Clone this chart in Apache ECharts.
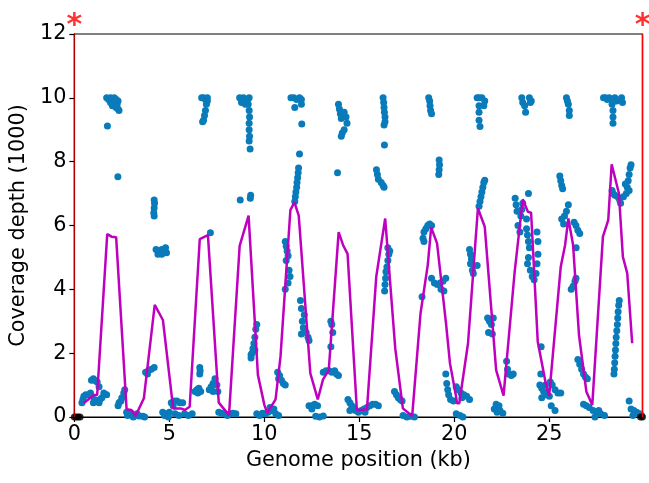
<!DOCTYPE html>
<html><head><meta charset="utf-8">
<script src="https://cdn.jsdelivr.net/npm/echarts@6/dist/echarts.min.js"></script>
<style>html,body{margin:0;padding:0;background:#fff}#c{width:649px;height:483px}</style>
</head><body><div id="c"></div>
<script>
const genomeLengthKb = 29.903;
const xTicks = [0, 5, 10, 15, 20, 25];
const yTicks = [0, 2, 4, 6, 8, 10, 12];

// per-position depth (kb, depth/1000)
const depthPoints = [
[0.4,0.45],[0.45,0.55],[0.5,0.65],[0.6,0.7],[0.75,0.7],[0.85,0.75],[0.9,1.15],[1.0,1.2],[1.05,1.15],[1.2,1.1],[1.3,0.95],[1.05,0.55],[1.0,0.45],[1.2,0.5],[1.3,0.45],[1.35,0.55],[1.45,0.6],[1.55,0.75],[1.7,0.7],
[1.7,10.0],[1.8,9.95],[1.9,10.0],[2.0,9.9],[2.1,10.0],[2.2,9.95],[2.3,9.9],[2.0,9.75],[2.2,9.7],[2.3,9.65],[1.9,9.85],[2.35,9.6],[2.25,9.8],
[1.74,9.12],[2.29,7.53],
[2.3,0.35],[2.35,0.45],[2.45,0.5],[2.5,0.6],[2.6,0.75],[2.65,0.85],
[2.75,0.15],[2.8,0.05],[2.9,0.1],[3.0,0.12],[3.1,0.0],[3.2,0.05],[3.3,0.1],[3.4,0.03],[3.6,0.02],[3.7,0.0],
[3.75,1.4],[3.85,1.35],[3.9,1.45],[4.05,1.5],[4.2,1.55],
[4.2,6.8],[4.22,6.7],[4.2,6.55],[4.18,6.4],[4.2,6.3],
[4.3,5.25],[4.45,5.2],[4.6,5.25],[4.75,5.2],[4.85,5.15],[4.4,5.1],[4.6,5.1],[4.8,5.3],
[4.65,0.15],[4.75,0.05],[4.85,0.1],[4.95,0.0],
[5.1,0.45],[5.25,0.5],[5.4,0.5],[5.55,0.45],[5.7,0.45],[5.2,0.35],[5.0,0.15],[5.3,0.1],[5.5,0.05],[5.8,0.1],[6.0,0.05],[6.2,0.1],
[6.35,0.8],[6.45,0.85],[6.55,0.9],[6.65,0.8],[6.5,0.75],[6.6,1.35],[6.62,1.45],[6.6,1.55],
[7.1,0.85],[7.2,0.95],[7.3,1.05],[7.4,1.2],[7.5,1.0],[7.55,0.8],[7.3,0.8],
[6.7,10.0],[6.8,10.0],[6.9,9.95],[7.0,10.0],[6.95,9.8],[6.9,9.6],[6.85,9.45],[6.8,9.3],[6.75,9.25],[7.0,9.9],
[7.16,5.77],
[7.6,0.15],[7.75,0.12],[7.9,0.1],[8.05,0.05],[8.2,0.1],[8.35,0.12],[8.5,0.1],
[8.7,10.0],[8.8,9.95],[8.9,10.0],[9.0,9.95],[9.1,9.9],[9.2,10.0],[9.15,9.8],[9.2,9.6],[9.22,9.4],[9.2,9.2],[9.2,9.0],[9.22,8.8],[9.2,8.65],[9.25,8.4],[8.8,9.85],[9.0,9.8],
[8.73,6.8],[9.26,6.85],[9.28,6.95],
[9.3,1.85],[9.35,2.0],[9.4,2.15],[9.45,2.3],[9.5,2.5],[9.55,2.75],[9.6,2.9],[9.5,2.1],[9.3,1.95],
[9.6,0.1],[9.75,0.05],[9.9,0.12],
[10.05,0.1],[10.2,0.15],[10.35,0.2],[10.5,0.25],[10.6,0.1],[10.75,0.05],[10.3,0.3],
[10.7,1.4],[10.8,1.3],[10.9,1.15],[11.0,1.05],[11.1,1.0],[10.75,1.2],
[11.1,5.5],[11.15,5.35],[11.2,5.2],[11.25,5.05],[11.15,4.9],[11.3,4.6],[11.35,4.4],[11.25,4.2],[11.1,4.0],
[11.6,6.75],[11.63,6.9],[11.66,7.05],[11.7,7.2],[11.72,7.35],[11.75,7.5],[11.78,7.65],[11.8,7.8],
[11.85,8.24],[11.97,9.18],
[11.4,10.0],[11.55,10.0],[11.7,9.95],[11.85,10.0],[11.95,9.95],[11.95,9.8],[11.6,9.7],
[11.9,3.65],[11.95,3.4],[12.1,3.2],[12.0,3.0],[12.05,2.8],[12.2,2.65],[12.3,2.5],[12.35,2.4],[11.95,2.6],
[12.35,0.35],[12.5,0.35],[12.65,0.4],[12.8,0.35],[12.5,0.25],
[12.7,0.02],[12.9,0.0],[13.1,0.03],
[13.1,1.4],[13.25,1.45],[13.4,1.45],[13.55,1.4],[13.7,1.45],[13.8,1.35],[13.9,1.3],
[13.5,3.0],[13.55,2.9],[13.6,2.65],[13.5,2.2],
[13.85,7.65],
[13.9,9.8],[13.95,9.65],[14.0,9.5],[14.05,9.35],[14.2,9.55],[14.3,9.4],[14.35,9.2],[14.2,9.0],[14.1,8.9],[14.05,8.8],
[14.4,0.55],[14.5,0.45],[14.6,0.35],[14.7,0.3],[14.8,0.2],[14.95,0.15],[14.5,0.2],
[15.1,0.2],[15.25,0.25],[15.4,0.3],[15.55,0.35],[15.7,0.4],[15.85,0.4],[16.0,0.35],[15.3,0.15],
[16.25,10.0],[16.28,9.85],[16.3,9.7],[16.32,9.55],[16.35,9.4],[16.35,9.25],[16.3,9.15],
[16.32,8.52],
[15.9,7.75],[15.95,7.6],[16.0,7.45],[16.15,7.35],[16.25,7.25],[16.3,7.2],
[16.5,5.3],[16.55,5.1],[16.5,4.9],[16.45,4.7],[16.4,4.55],[16.38,4.35],[16.35,4.15],[16.33,3.95],[16.6,5.2],
[16.85,0.8],[16.95,0.7],[17.05,0.6],[17.15,0.55],[17.25,0.5],
[17.3,0.05],[17.5,0.0],[17.7,0.02],[17.9,0.0],
[18.65,10.0],[18.7,9.9],[18.72,9.75],[18.75,9.6],[18.8,9.5],
[19.2,8.05],[19.22,7.9],[19.2,7.75],[19.18,7.6],
[18.35,5.6],[18.4,5.8],[18.5,5.9],[18.6,6.0],[18.7,6.05],[18.8,6.0],[18.4,5.5],
[18.3,3.77],
[18.8,4.35],[18.95,4.2],[19.1,4.15],[19.25,4.2],[19.4,4.25],[19.55,4.35],[19.45,3.95],[19.3,4.0],
[19.55,1.35],[19.6,1.05],[19.65,0.85],[19.7,0.7],[19.8,0.55],[19.95,0.5],
[20.1,0.95],[20.2,0.85],[20.35,0.75],[20.5,0.7],[20.65,0.65],[20.8,0.55],[20.4,0.6],
[20.1,0.1],[20.3,0.05],[20.45,0.0],
[20.8,5.25],[20.85,5.1],[20.9,4.95],[20.85,4.8],[20.95,4.6],[21.0,4.5],[21.2,4.75],
[21.2,10.0],[21.3,10.0],[21.45,10.0],[21.6,9.9],[21.3,9.75],[21.3,9.55],[21.3,9.3],[21.35,9.1],[21.55,9.75],
[21.3,6.6],[21.35,6.75],[21.4,6.9],[21.45,7.05],[21.5,7.2],[21.55,7.35],[21.6,7.42],
[21.75,3.1],[21.85,3.0],[21.95,2.9],[22.05,3.1],[21.8,2.65],[22.0,2.6],
[22.1,0.25],[22.25,0.15],[22.4,0.2],[22.55,0.12],[22.2,0.4],[22.35,0.35],
[22.75,1.75],[22.8,1.5],[22.85,1.35],[23.0,1.3],[23.1,1.35],
[23.2,6.85],[23.25,6.65],[23.3,6.45],[23.35,6.0],[23.5,6.3],[23.55,6.5],[23.6,6.7],[23.9,7.0],[23.45,5.8],[23.8,6.2],
[23.55,10.0],[23.6,9.85],[23.7,9.75],[23.75,9.55],[23.95,10.0],[24.0,9.85],[24.05,9.9],
[23.8,5.9],[23.85,5.7],[23.9,5.5],[23.95,5.3],[23.9,5.0],[23.85,4.8],[24.0,4.6],[24.1,4.4],[24.2,4.3],[24.3,4.5],[24.35,4.8],[24.4,5.1],[24.4,5.5],[24.35,5.8],
[24.5,1.0],[24.6,0.9],[24.7,0.8],[24.85,0.7],[25.0,0.65],[24.6,0.6],[24.8,1.0],[24.55,1.35],
[24.57,2.2],
[25.05,1.1],[25.15,1.0],[25.3,0.85],[25.45,0.75],[25.6,0.75],[25.1,0.35],[25.3,0.2],
[25.9,10.0],[25.95,9.9],[26.0,9.8],[26.05,9.6],[26.05,9.45],
[25.55,7.55],[25.6,7.4],[25.65,7.25],[25.7,7.15],
[25.65,6.2],[25.8,6.3],[25.9,6.45],[26.0,6.65],[25.75,6.05],
[26.3,6.1],[26.4,6.0],[26.5,5.85],[26.6,5.75],
[26.41,5.3],
[26.15,4.0],[26.25,4.1],[26.35,4.25],[26.4,4.35],
[26.5,1.8],[26.6,1.65],[26.7,1.5],[26.8,1.35],[26.9,1.25],[27.0,1.2],
[26.8,0.4],[26.95,0.35],[27.1,0.3],[27.3,0.2],[27.5,0.15],[27.7,0.1],[27.9,0.05],[27.4,0.0],[27.6,0.2],
[27.85,10.0],[27.95,10.0],[28.05,9.95],[28.15,10.0],[28.3,9.95],[28.45,10.0],[28.55,9.9],[28.8,10.0],[28.85,9.85],[28.3,9.8],[28.35,9.6],[28.35,9.4],[28.35,9.2],
[28.3,7.1],[28.35,7.0],[28.45,6.95],[28.6,6.9],[28.7,6.8],[28.75,6.7],[28.9,6.9],[29.05,7.0],[29.1,7.2],[29.15,7.4],[29.2,7.6],[29.25,7.8],[29.3,7.9],[29.2,7.1],[29.0,7.3],
[28.4,1.35],[28.42,1.5],[28.44,1.7],[28.46,1.9],[28.48,2.1],[28.5,2.3],[28.52,2.5],[28.55,2.7],[28.58,2.9],[28.6,3.1],[28.62,3.3],[28.65,3.5],[28.68,3.65],
[29.2,0.5],[29.3,0.25],[29.45,0.2],[29.6,0.15],[29.75,0.1],[29.85,0.05],[29.4,0.05]
];

// zero-depth (uncovered) ends
const zeroPoints = [[0.0,0],[0.1,0],[0.2,0],[0.3,0],[29.8,0],[29.9,0]];

// smoothed mean depth
const meanPos = [0.5,1.03,1.2,1.73,1.96,2.2,2.75,3.0,3.22,3.66,4.23,4.66,5.2,5.6,5.81,6.07,6.6,7.03,7.6,8.14,8.7,9.17,9.66,10.0,10.15,10.59,10.85,11.37,11.58,11.81,12.42,12.81,13.09,13.39,13.91,14.14,14.38,14.87,15.01,15.4,15.89,16.36,16.89,17.29,17.78,18.22,18.6,18.78,19.09,19.56,19.77,20.09,20.14,20.26,20.72,21.24,21.6,22.2,22.59,23.17,23.6,23.87,24.04,24.39,24.81,24.99,25.6,25.83,26.0,26.25,26.56,26.95,27.26,27.82,28.1,28.28,28.66,28.87,29.1,29.36];
const meanDepth = [0.44,0.69,0.69,5.73,5.65,5.63,0.24,0.22,0.03,0.59,3.51,3.04,0.27,0.27,0.22,0.32,5.57,5.7,0.45,0.06,5.36,6.31,1.32,0.38,0.12,0.55,1.89,6.48,6.73,6.31,1.37,0.55,1.18,1.47,5.79,5.39,5.11,0.22,0.22,0.24,4.4,6.22,2.15,0.27,0.03,3.25,4.76,5.94,5.44,2.94,1.68,0.64,0.43,0.43,2.31,6.54,5.96,1.47,0.67,4.52,6.82,6.43,6.4,2.36,1.06,0.66,4.71,5.39,6.22,5.39,2.57,0.79,0.38,5.65,6.17,7.92,7.01,5.02,4.5,2.31];

// genome boundary markers
const boundaryPos = [0, genomeLengthKb];
const boundaryTop = 12.5;

const chart = echarts.init(document.getElementById('c'), null, {renderer: 'canvas'});
const font = 'DejaVu Sans';
const meanLine = meanPos.map((x, i) => [x, meanDepth[i]]);

chart.setOption({
  animation: false,
  backgroundColor: '#fff',
  grid: {left: 74, right: 6.5, top: 34, bottom: 66, show: true, borderColor: '#000', borderWidth: 1.2, backgroundColor: 'transparent'},
  xAxis: {
    type: 'value', min: 0, max: genomeLengthKb, interval: 5,
    name: 'Genome position (kb)', nameLocation: 'middle', nameGap: 32,
    nameTextStyle: {fontFamily: font, fontSize: 20.8, color: '#000'},
    axisLine: {show: true, onZero: false, lineStyle: {color: '#000', width: 1.2}},
    axisTick: {show: true, length: 5, lineStyle: {color: '#000', width: 1.2}, customValues: xTicks},
    axisLabel: {fontFamily: font, fontSize: 20.8, color: '#000', margin: 7, customValues: xTicks},
    splitLine: {show: false}
  },
  yAxis: {
    type: 'value', min: 0, max: 12, interval: 2,
    name: 'Coverage depth (1000)', nameLocation: 'middle', nameGap: 43,
    nameTextStyle: {fontFamily: font, fontSize: 20.8, color: '#000'},
    axisLine: {show: true, lineStyle: {color: '#000', width: 1.2}},
    axisTick: {show: true, length: 5, lineStyle: {color: '#000', width: 1.2}, customValues: yTicks},
    axisLabel: {fontFamily: font, fontSize: 20.8, color: '#000', margin: 8, customValues: yTicks},
    splitLine: {show: false}
  },
  series: [
    {type: 'scatter', data: depthPoints, symbolSize: 7, itemStyle: {color: '#0a7bba', opacity: 1}, z: 2},
    {type: 'scatter', data: zeroPoints, symbolSize: 7, itemStyle: {color: '#000'}, z: 2},
    {type: 'line', data: meanLine, showSymbol: false, symbol: 'none', lineStyle: {color: '#bf00bf', width: 2.5}, z: 3},
    {type: 'line', data: [[boundaryPos[0], 0], [boundaryPos[0], 12]], symbol: 'none', lineStyle: {color: '#cc0000', width: 1}, z: 4},
    {type: 'line', data: [[boundaryPos[1], 0], [boundaryPos[1], 12]], symbol: 'none', lineStyle: {color: '#ff0000', width: 1.5}, z: 4},
    {type: 'scatter', data: boundaryPos.map(x => [x, boundaryTop]), symbolSize: 1, clip: false,
      itemStyle: {color: 'rgba(0,0,0,0)'}, z: 5,
      label: {show: true, position: 'inside', formatter: '*', fontFamily: font, fontWeight: 'bold', fontSize: 30, color: '#ff0000', offset: [0, 8]}}
  ]
});
</script>
</body></html>
